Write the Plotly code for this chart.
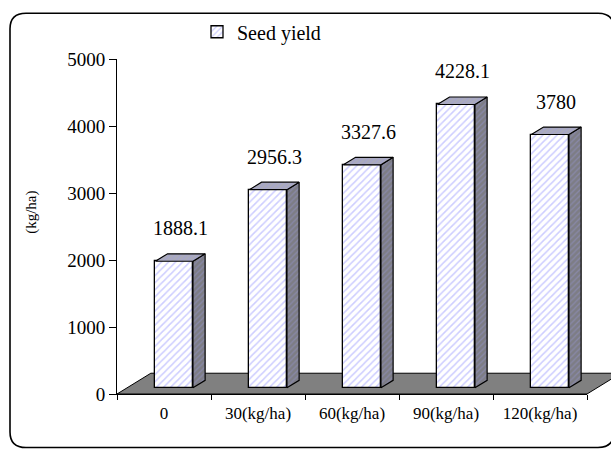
import plotly.graph_objects as go

# ---- data ----
categories = ["0", "30(kg/ha)", "60(kg/ha)", "90(kg/ha)", "120(kg/ha)"]
seed_yield = [1888.1, 2956.3, 3327.6, 4228.1, 3780]
value_labels = ["1888.1", "2956.3", "3327.6", "4228.1", "3780"]
y_ticks = [0, 1000, 2000, 3000, 4000, 5000]
series_name = "Seed yield"
y_title = "(kg/ha)"

# ---- pseudo-3D geometry (in axis units) ----
FLOOR_DX, FLOOR_DY = 0.36, 310
FRONT, BACK = 0.30, 0.66
BAR_W = 0.40
X0, X1 = -0.5, 4.5
Y0, Y1 = 0, 5000

W, H = 611, 450
ML, MR, MT, MB = 117, 24, 50, 56
PW, PH = W - ML - MR, H - MT - MB

FONT = "Times New Roman, Liberation Serif, Tinos, serif"

offset = -BAR_W / 2 + FRONT * FLOOR_DX
base = FRONT * FLOOR_DY
ddx = (BACK - FRONT) * FLOOR_DX
ddy = (BACK - FRONT) * FLOOR_DY

stripe_front = dict(shape="/", fgcolor="#9c9cff", bgcolor="white", size=5, solidity=0.3)

fig = go.Figure()

# front faces
fig.add_trace(go.Bar(
    x=categories, y=seed_yield, base=base, offset=offset, width=BAR_W,
    name=series_name, showlegend=True,
    marker=dict(color="white", pattern=stripe_front,
                line=dict(color="black", width=1.3)),
    hoverinfo="skip",
))

# side and top faces
for i, v in enumerate(seed_yield):
    xl = i + offset
    xr = xl + BAR_W
    b = base
    t = base + v
    fig.add_trace(go.Scatter(
        x=[xr, xr + ddx, xr + ddx, xr, xr],
        y=[b, b + ddy, t + ddy, t, b],
        xaxis="x2", yaxis="y", mode="lines", fill="toself",
        fillcolor="#7f7f8c",
        fillpattern=dict(shape="/", fgcolor="#9494cc", bgcolor="#7d7d85", size=4, solidity=0.3),
        line=dict(color="black", width=1.2), showlegend=False, hoverinfo="skip",
    ))
    fig.add_trace(go.Scatter(
        x=[xl, xl + ddx, xr + ddx, xr, xl],
        y=[t, t + ddy, t + ddy, t, t],
        xaxis="x2", yaxis="y", mode="lines", fill="toself",
        fillcolor="#a8a8b8",
        fillpattern=dict(shape="/", fgcolor="#a0a0e0", bgcolor="#ababbb", size=4, solidity=0.3),
        line=dict(color="black", width=1.2), showlegend=False, hoverinfo="skip",
    ))


def px(x):
    return (x - X0) / (X1 - X0)


def py(y):
    return (y - Y0) / (Y1 - Y0)


# floor (paper-referenced so it can extend past the plot area)
floor_pts = [(X0, 0), (X1, 0), (X1 + FLOOR_DX, FLOOR_DY), (X0 + FLOOR_DX, FLOOR_DY)]
path = "M " + " L ".join(f"{px(x)},{py(y)}" for x, y in floor_pts) + " Z"
shapes = [dict(type="path", xref="paper", yref="paper", path=path,
               fillcolor="#808080", line=dict(color="black", width=1), layer="below")]

# rounded outer border (pixel -> paper)
def ppx(p):
    return (p - ML) / PW


def ppy(p):
    return (H - MB - p) / PH


L_, T_, R_, B_, r = 10, 3, 614, 449, 16
border = (f"M {ppx(L_ + r)},{ppy(T_)} L {ppx(R_ - r)},{ppy(T_)} "
          f"Q {ppx(R_)},{ppy(T_)} {ppx(R_)},{ppy(T_ + r)} "
          f"L {ppx(R_)},{ppy(B_ - r)} Q {ppx(R_)},{ppy(B_)} {ppx(R_ - r)},{ppy(B_)} "
          f"L {ppx(L_ + r)},{ppy(B_)} Q {ppx(L_)},{ppy(B_)} {ppx(L_)},{ppy(B_ - r)} "
          f"L {ppx(L_)},{ppy(T_ + r)} Q {ppx(L_)},{ppy(T_)} {ppx(L_ + r)},{ppy(T_)} Z")
shapes.append(dict(type="path", xref="paper", yref="paper", path=border,
                   line=dict(color="black", width=1.6), layer="above"))

annotations = []
for i, (v, lab) in enumerate(zip(seed_yield, value_labels)):
    annotations.append(dict(
        x=i + offset + BAR_W / 2 + ddx / 2, y=base + v, xref="x2", yref="y",
        text=lab, showarrow=False, yanchor="middle", yshift=33,
        font=dict(family=FONT, size=20, color="black"),
    ))
annotations.append(dict(
    x=ppx(32), y=ppy(208), xref="paper", yref="paper", text=y_title,
    xanchor="center", yanchor="middle",
    textangle=-90, showarrow=False, font=dict(family=FONT, size=15, color="black"),
))

fig.update_layout(
    width=W, height=H,
    margin=dict(l=ML, r=MR, t=MT, b=MB),
    paper_bgcolor="white", plot_bgcolor="rgba(0,0,0,0)",
    font=dict(family=FONT, color="black"),
    xaxis=dict(type="category", categoryarray=categories, range=[X0, X1],
               tickson="boundaries", ticks="outside", ticklen=5, tickcolor="black",
               showline=True, linecolor="black", linewidth=1, showgrid=False,
               zeroline=False, tickfont=dict(family=FONT, size=17, color="black"),
               ticklabelstandoff=4, fixedrange=True),
    xaxis2=dict(overlaying="x", range=[X0, X1], visible=False, fixedrange=True),
    yaxis=dict(range=[Y0, Y1], tickvals=y_ticks, ticks="outside", ticklen=7,
               tickcolor="black", showline=True, linecolor="black", linewidth=1,
               showgrid=False, zeroline=False,
               tickfont=dict(family=FONT, size=19, color="black"), fixedrange=True),
    showlegend=True,
    legend=dict(orientation="h", x=ppx(197), xanchor="left", y=ppy(22), yanchor="middle",
                font=dict(family=FONT, size=20, color="black"), bgcolor="rgba(0,0,0,0)"),
    shapes=shapes,
    annotations=annotations,
    bargap=0,
)

fig.write_html("out.html", config={"displayModeBar": False},
               post_script="document.body.style.margin='0px';document.body.style.overflow='hidden';")
